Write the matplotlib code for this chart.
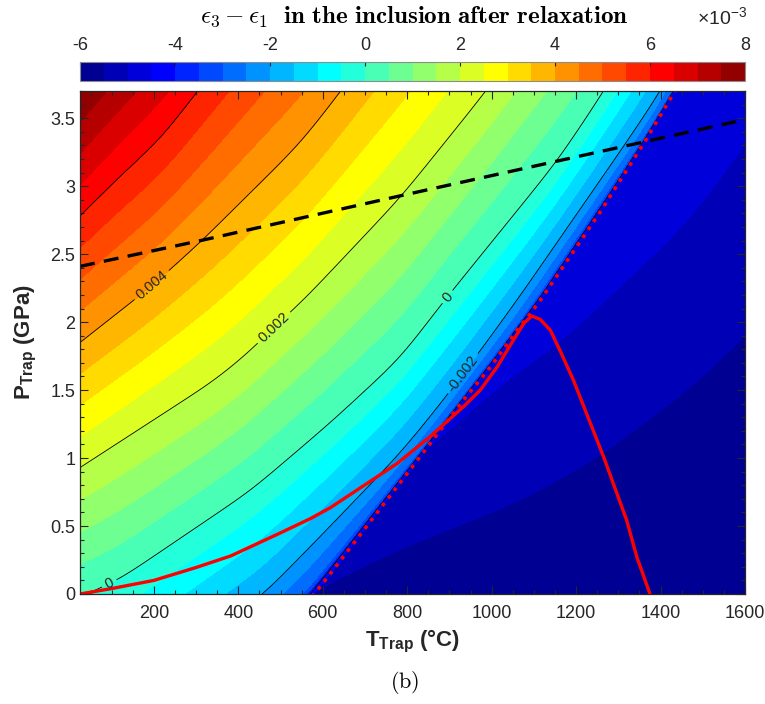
import numpy as np
import matplotlib
matplotlib.use("Agg")
import matplotlib.pyplot as plt
from matplotlib.colors import ListedColormap
from matplotlib.ticker import MultipleLocator, FormatStrFormatter

plt.rcParams['font.family'] = ['Liberation Sans', 'DejaVu Sans']
plt.rcParams['mathtext.fontset'] = 'custom'
plt.rcParams['mathtext.rm'] = 'Liberation Sans'
plt.rcParams['mathtext.bf'] = 'Liberation Sans:bold'
plt.rcParams['mathtext.it'] = 'Liberation Sans:italic'

# ---- contour positions (T in degC, P in GPa) ----
# points outside the frame only keep the field continuous
# relaxation front (red dotted line)
front_T = [25, 300, 580, 618, 697, 776, 855, 934, 997, 1060, 1091, 1115, 1257, 1363, 1434, 1600]
front_P = [-1.9, -1.0, 0.0, 0.15, 0.47, 0.79, 1.11, 1.43, 1.67, 1.94, 2.06, 2.16, 2.81, 3.33, 3.70, 4.60]

# iso-lines of the unrelaxed side
lev_m3_T = [25, 300, 555, 678, 844, 1080, 1354, 1427, 1600]
lev_m3_P = [-1.4, -0.75, 0.0, 0.47, 1.11, 2.06, 3.33, 3.70, 4.70]
lev_m2_T = [25, 250, 461, 618, 785, 887, 978, 1060, 1321, 1399, 1600]
lev_m2_P = [-0.93, -0.48, 0.0, 0.50, 1.04, 1.43, 1.81, 2.16, 3.33, 3.69, 4.80]
lev_0_T = [25, 115, 429, 618, 726, 785, 883, 1157, 1264, 1600]
lev_0_P = [-0.02, 0.10, 0.76, 1.26, 1.57, 1.74, 2.14, 3.19, 3.69, 5.40]
lev_2_T = [25, 343, 430, 489, 548, 785, 987, 1600]
lev_2_P = [0.93, 1.57, 1.79, 1.98, 2.14, 2.92, 3.70, 6.30]
lev_4_T = [25, 193, 311, 548, 643, 1000, 1600]
lev_4_P = [1.85, 2.26, 2.59, 3.32, 3.70, 5.20, 7.80]
lev_6_T = [25, 115, 217, 304, 600, 1600]
lev_6_P = [2.78, 3.06, 3.35, 3.70, 4.90, 9.00]
lev_8_T = [25, 300, 1600]
lev_8_P = [3.70, 4.75, 10.2]
lev_10_T = [25, 1600]
lev_10_P = [4.60, 12.0]
unrelaxed_levels = [-4.6e-3, -3e-3, -2e-3, 0, 2e-3, 4e-3, 6e-3, 8e-3, 10e-3]

# iso-lines of the relaxed side
lev_m50_T = [25, 840, 1021, 1170, 1259, 1467, 1600]
lev_m50_P = [-0.5, 1.04, 1.54, 1.87, 2.13, 2.74, 3.31]
lev_m55_T = [25, 618, 760, 894, 1021, 1162, 1259, 1486, 1600]
lev_m55_P = [-0.9, 0.08, 0.30, 0.47, 0.62, 0.84, 1.02, 1.55, 1.90]

# red solid curve
curve_T = [25, 100, 150, 200, 300, 382, 500, 571, 618, 713, 776, 855, 934, 973,
           1013, 1052, 1076, 1095, 1115, 1139, 1162, 1194, 1265, 1320, 1344, 1375]
curve_P = [0.0, 0.04, 0.07, 0.10, 0.195, 0.28, 0.45, 0.555, 0.635, 0.83, 0.96, 1.16,
           1.38, 1.50, 1.67, 1.87, 1.99, 2.045, 2.02, 1.94, 1.79, 1.57, 1.01, 0.54,
           0.27, 0.0]

# black dashed line
dash_T = [25, 311, 785, 1600]
dash_P = [2.41, 2.60, 2.93, 3.49]

# contour label spots
label_T = [193, 484, 898, 94, 933]
label_P = [2.28, 1.96, 2.18, 0.08, 1.62]

cbar_ticks = [-6, -4, -2, 0, 2, 4, 6, 8]


def iso_line(T, xp, fp, sigma=35.0):
    # piecewise-linear iso-line with linear run-out, lightly smoothed along T
    step = T[1] - T[0]
    pad = int(4 * sigma / step)
    Tx = np.concatenate([T[0] - step * np.arange(pad, 0, -1), T, T[-1] + step * np.arange(1, pad + 1)])
    y = np.interp(Tx, xp, fp)
    lo = Tx < xp[0]
    hi = Tx > xp[-1]
    y[lo] = fp[0] + (Tx[lo] - xp[0]) * (fp[1] - fp[0]) / (xp[1] - xp[0])
    y[hi] = fp[-1] + (Tx[hi] - xp[-1]) * (fp[-1] - fp[-2]) / (xp[-1] - xp[-2])
    k = np.arange(-pad, pad + 1) * step
    w = np.exp(-0.5 * (k / sigma) ** 2)
    w /= w.sum()
    return np.convolve(y, w, mode='valid')


# ---- build the field from the read iso-lines ----
T = np.linspace(25, 1600, 700)
P = np.linspace(0, 3.7, 600)
PP = P[:, None] * np.ones((1, T.size))

Pc = iso_line(T, front_T, front_P, sigma=15.0)
unrelaxed_curves = [(lev_m3_T, lev_m3_P), (lev_m2_T, lev_m2_P),
                    (lev_0_T, lev_0_P), (lev_2_T, lev_2_P), (lev_4_T, lev_4_P),
                    (lev_6_T, lev_6_P), (lev_8_T, lev_8_P), (lev_10_T, lev_10_P)]
stack = np.array([Pc] + [iso_line(T, a, b) for a, b in unrelaxed_curves])
for i in range(1, len(stack)):
    stack[i] = np.maximum(stack[i], stack[i - 1] + 1e-3)

p50 = iso_line(T, lev_m50_T, lev_m50_P, sigma=50.0)
p55 = iso_line(T, lev_m55_T, lev_m55_P, sigma=50.0)

eps_u = np.empty((P.size, T.size))
eps_r = np.empty((P.size, T.size))
for j in range(T.size):
    eps_u[:, j] = np.interp(P, stack[:, j], unrelaxed_levels)
    eps_r[:, j] = np.interp(P, [p55[j] - 1.2, p55[j], p50[j], p50[j] + 1.3],
                            [-6.5e-3, -5.5e-3, -5e-3, -4.5e-3])
eps = np.where(PP >= Pc[None, :], eps_u, eps_r)
eps = np.clip(eps, -5.99e-3, 7.99e-3)

# MATLAB jet(28)
m = 28
n = int(np.ceil(m / 4))
u = np.concatenate([np.arange(1, n + 1) / n, np.ones(n - 1), np.arange(n, 0, -1) / n])
g = int(np.ceil(n / 2)) - (m % 4 == 1) + np.arange(1, len(u) + 1)
jet = np.zeros((m, 3))
for col, idx in [(1, g), (0, g + n), (2, g - n)]:
    ok = (idx >= 1) & (idx <= m)
    jet[idx[ok] - 1, col] = u[ok]
cmap = ListedColormap(jet)

levels = np.arange(-6, 8.01, 0.5) * 1e-3
axc = '#262626'

fig = plt.figure(figsize=(7.65, 7.04), dpi=100)
ax = fig.add_axes([80 / 765, 1 - 594 / 704, 665 / 765, 503 / 704])
cf = ax.contourf(T, P, eps, levels=levels, cmap=cmap)
ax.contour(T, P, eps, levels=[-4e-3, 6e-3], colors='k', linewidths=0.6,
           negative_linestyles='solid')
cs = ax.contour(T, P, eps, levels=[-2e-3, 0, 2e-3, 4e-3],
                colors='k', linewidths=0.6, negative_linestyles='solid')
ax.clabel(cs, fmt=lambda v: f'{v:g}',
          manual=list(zip(label_T, label_P)), fontsize=10.5, colors=axc,
          inline=True, inline_spacing=4)

ax.plot(front_T, front_P, color='red', linestyle=':', linewidth=2.6)
ax.plot(curve_T, curve_P, color='red', linewidth=2.4, solid_joinstyle='round')
ax.plot(dash_T, dash_P, color='k', linewidth=2.4, dashes=(4.5, 2.8))

ax.set_xlim(25, 1600)
ax.set_ylim(0, 3.7)
ax.set_xticks(np.arange(200, 1601, 200))
ax.set_yticks(np.arange(0, 3.51, 0.5))
ax.yaxis.set_major_formatter(FormatStrFormatter('%g'))
ax.xaxis.set_minor_locator(MultipleLocator(50))
ax.yaxis.set_minor_locator(MultipleLocator(0.1))
ax.tick_params(which='both', direction='in', top=True, right=True, colors=axc,
               labelsize=13, width=0.8)
ax.tick_params(which='major', length=5.5)
ax.tick_params(which='minor', length=3)
ax.tick_params(axis='x', pad=8)
for s in ax.spines.values():
    s.set_color(axc)
    s.set_linewidth(0.9)

fig.text(412 / 765, 1 - 641 / 704, r'$\mathbf{T_{Trap}}$ $\mathbf{(°C)}$',
         ha='center', va='center', fontsize=16, color=axc)
fig.text(26 / 765, 1 - 342 / 704, r'$\mathbf{P_{Trap}}$ $\mathbf{(GPa)}$',
         ha='center', va='center', rotation=90, fontsize=16, color=axc)
fig.text(405 / 765, 1 - 683 / 704, r'$\mathrm{(b)}$', ha='center', va='center',
         fontsize=16, math_fontfamily='cm')

# colorbar on top
cax = fig.add_axes([80 / 765, 1 - 81 / 704, 665 / 765, 19 / 704])
cb = fig.colorbar(cf, cax=cax, orientation='horizontal')
cb.set_ticks([t * 1e-3 for t in cbar_ticks])
cb.set_ticklabels([str(t) for t in cbar_ticks])
cax.xaxis.set_ticks_position('top')
cax.tick_params(direction='in', length=3, colors=axc, labelsize=13, pad=6)
cax.minorticks_off()
cb.outline.set_edgecolor('#8c8c8c')
cb.outline.set_linewidth(0.8)

fig.text(414 / 765, 1 - 17 / 704,
         r'$\epsilon_\mathbf{3} - \epsilon_\mathbf{1}\ \ \mathbf{in\ the\ inclusion\ after\ relaxation}$',
         ha='center', va='center', fontsize=18, math_fontfamily='cm')
fig.text(697 / 765, 1 - 17 / 704, r'$\times10^{-3}$', ha='left', va='center',
         fontsize=14, color=axc)

fig.savefig('out.png', dpi=100)
